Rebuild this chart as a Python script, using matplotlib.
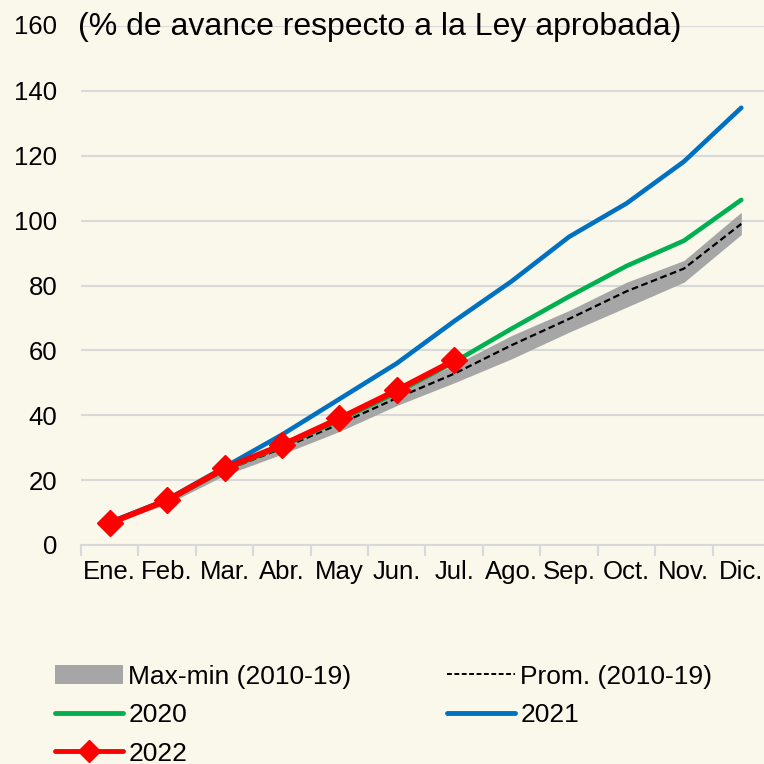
import numpy as np
import matplotlib
matplotlib.use("Agg")
import matplotlib.pyplot as plt
from matplotlib.patches import Patch
from matplotlib.lines import Line2D

plt.rcParams['font.family'] = ['Liberation Sans', 'DejaVu Sans']

months = ['Ene.', 'Feb.', 'Mar.', 'Abr.', 'May', 'Jun.', 'Jul.', 'Ago.', 'Sep.', 'Oct.', 'Nov.', 'Dic.']
band_max = [7.2, 14.2, 24.3, 31.5, 39.5, 47.5, 55.5, 64.6, 72.3, 81.0, 87.7, 102.6]
band_min = [6.5, 12.6, 21.5, 28.0, 35.0, 43.0, 50.0, 57.4, 65.6, 73.3, 81.0, 95.7]
prom = [6.9, 13.4, 22.9, 29.8, 37.3, 45.3, 52.8, 61.6, 69.7, 78.2, 85.2, 99.0]
y2020 = [7.0, 13.6, 23.2, 30.5, 38.5, 47.0, 56.4, 66.7, 76.6, 86.0, 93.8, 106.4]
y2021 = [7.0, 14.0, 24.0, 34.0, 45.0, 56.0, 69.0, 81.3, 95.0, 105.3, 118.2, 134.8]
y2022 = [6.7, 13.8, 23.6, 30.8, 39.0, 47.7, 56.9]

bg = '#FAF8EB'
grid_c = '#D9D9D9'
fs = 18.5

fig = plt.figure(figsize=(7.64, 7.64), dpi=100, facecolor=bg)
ax = fig.add_axes([81 / 764, 1 - 545 / 764, 689 / 764, (545 - 26) / 764])
ax.set_facecolor(bg)

x = np.arange(len(months))
ax.fill_between(x, band_min, band_max, color='#A6A6A6', lw=0, zorder=2)
ax.plot(x, prom, color='black', ls=(0, (3, 1.6)), lw=1.6, zorder=3)
ax.plot(x, y2020, color='#00B050', lw=3.3, solid_capstyle='round', zorder=4)
ax.plot(x, y2021, color='#0070C0', lw=3.3, solid_capstyle='round', zorder=5)
ax.plot(x[:len(y2022)], y2022, color='#FF0000', lw=4.2, marker='D', ms=13.5, zorder=6)

ax.set_xlim(-0.5, len(months) - 0.5)
ax.set_ylim(0, 160)
ax.set_yticks(np.arange(0, 161, 20))
ax.set_xticks(x)
ax.set_xticklabels(months)
ax.set_xticks(np.arange(-0.5, len(months), 1), minor=True)
ax.yaxis.grid(True, color=grid_c, lw=1.5, zorder=0)
ax.set_axisbelow(True)
for s in ['top', 'right', 'left']:
    ax.spines[s].set_visible(False)
ax.spines['bottom'].set_color(grid_c)
ax.spines['bottom'].set_linewidth(1.5)
ax.tick_params(axis='y', length=0, labelsize=fs, pad=17)
ax.tick_params(axis='x', which='major', length=0, labelsize=fs, pad=11)
ax.tick_params(axis='x', which='minor', length=8, width=1.5, color=grid_c)
for lab in ax.get_yticklabels():
    if lab.get_text() == '160':
        lab.set_visible(False)

fig.text(57 / 764, 1 - 27 / 764, '160', fontsize=fs, va='center', ha='right')
fig.text(78 / 764, 1 - 27 / 764, '(% de avance respecto a la Ley aprobada)',
         fontsize=23, va='center', ha='left')

handles = [
    Patch(facecolor='#A6A6A6', edgecolor='none'),
    Line2D([], [], color='#00B050', lw=3.5, solid_capstyle='round'),
    Line2D([], [], color='#FF0000', lw=3.5, marker='D', ms=11, solid_capstyle='round'),
    Line2D([], [], color='black', ls=(0, (2.5, 1.3)), lw=1.4),
    Line2D([], [], color='#0070C0', lw=3.5, solid_capstyle='round'),
]
labels = ['Max-min (2010-19)', '2020', '2022', 'Prom. (2010-19)', '2021']
fig.legend(handles, labels, ncol=2, loc='upper left', bbox_to_anchor=(44 / 764, 1 - 654 / 764),
           frameon=False, fontsize=19, handlelength=2.6, handletextpad=0.2,
           columnspacing=3.6, labelspacing=0.55, borderaxespad=0)

fig.savefig('out.png', dpi=100, facecolor=bg)
